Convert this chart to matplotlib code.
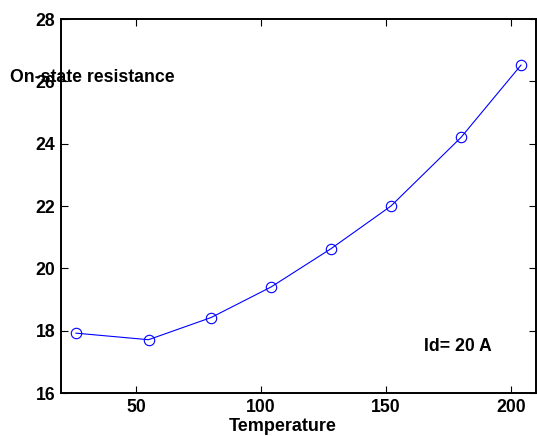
import numpy as np
import matplotlib
matplotlib.use('Agg')
import matplotlib.pyplot as plt

# On-state resistance vs temperature, Id = 20 A
temperature = [26, 55, 80, 104, 128, 152, 180, 204]
resistance = [17.92, 17.71, 18.42, 19.40, 20.63, 22.00, 24.20, 26.52]
x_ticks = [50, 100, 150, 200]
y_ticks = [16, 18, 20, 22, 24, 26, 28]

fs = 12.7
plt.rcParams['font.family'] = ['Liberation Sans', 'DejaVu Sans']
plt.rcParams['font.weight'] = 'bold'
plt.rcParams['font.size'] = fs

fig = plt.figure(figsize=(5.37, 4.36), dpi=100)
ax = fig.add_axes([61/537, 1 - 393/436, 475/537, 374/436])
ax.plot(temperature, resistance, color='#0000ff', linewidth=0.8,
        marker='o', markersize=7.5, markerfacecolor='none',
        markeredgecolor='#0000ff', markeredgewidth=0.8)

ax.set_xlim(20, 210)
ax.set_ylim(16, 28)
ax.set_xticks(x_ticks)
ax.set_yticks(y_ticks)
ax.tick_params(direction='in', length=5, width=0.8, top=True, right=True,
               labelsize=fs, pad=4)
for lab in ax.get_xticklabels() + ax.get_yticklabels():
    lab.set_fontweight('bold')
for s in ax.spines.values():
    s.set_linewidth(1.4)

ax.text(165, 17.49, 'Id= 20 A', fontsize=fs, fontweight='bold',
        ha='left', va='center')
fig.text(10/537, 1 - 77/436, 'On-state resistance', fontsize=fs,
         fontweight='bold', ha='left', va='center')
fig.text(283/537, 1 - 426/436, 'Temperature', fontsize=13,
         fontweight='bold', ha='center', va='center')

fig.savefig('out.png', dpi=100)
